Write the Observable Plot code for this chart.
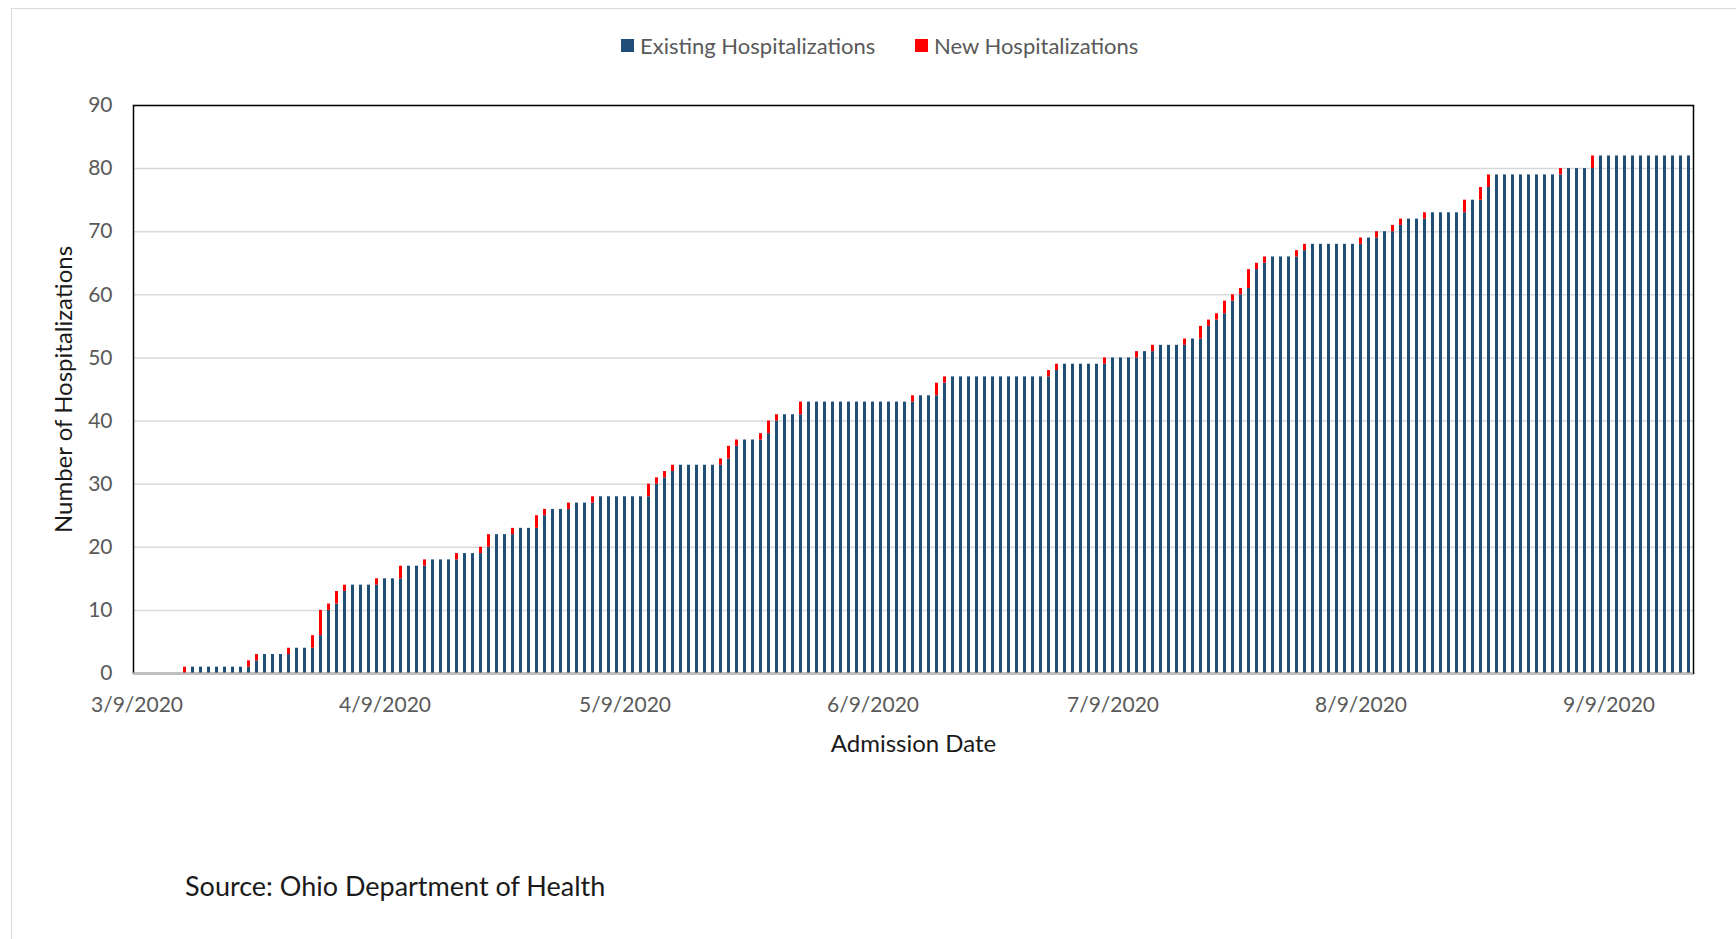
<!DOCTYPE html>
<html>
<head>
<meta charset="utf-8">
<script src="https://cdn.jsdelivr.net/npm/d3@7"></script>
<script src="https://cdn.jsdelivr.net/npm/@observablehq/plot@0.6"></script>
<style>
  html, body { margin: 0; padding: 0; background: #fff; width: 1736px; height: 939px; overflow: hidden; font-family: Lato, "Open Sans", sans-serif; }
  #border { position: absolute; left: 11px; top: 8px; width: 1780px; height: 980px; border: 1px solid #d9d9d9; box-sizing: border-box; }
  .leg { position: absolute; top: 32px; font-size: 22px; color: #595959; display: flex; align-items: center; white-space: nowrap; }
  .sw { width: 13px; height: 13px; margin-right: 6px; display: inline-block; }
  #chart { position: absolute; left: 0; top: 80px; }
  #caption { position: absolute; left: 185px; top: 869px; font-size: 27px; color: #1a1a1a; }
</style>
</head>
<body>
<div id="border"></div>
<div class="leg" style="left:621px"><span class="sw" style="background:#1F4E79"></span>Existing Hospitalizations</div>
<div class="leg" style="left:915px"><span class="sw" style="background:#FF0000"></span>New Hospitalizations</div>
<div id="chart"></div>
<div id="caption">Source: Ohio Department of Health</div>
<script>
// First admission-date category and daily values (one entry per day from 3/9/2020)
const startDate = "2020-03-09";
const existing = [
  0,0,0,0,0,0,0,1,1,1,
  1,1,1,1,1,2,3,3,3,3,
  4,4,4,6,10,11,13,14,14,14,
  14,15,15,15,17,17,17,18,18,18,
  18,19,19,19,20,22,22,22,23,23,
  23,25,26,26,26,27,27,27,28,28,
  28,28,28,28,28,30,31,32,33,33,
  33,33,33,33,34,36,37,37,37,38,
  40,41,41,41,43,43,43,43,43,43,
  43,43,43,43,43,43,43,43,44,44,
  44,46,47,47,47,47,47,47,47,47,
  47,47,47,47,47,48,49,49,49,49,
  49,49,50,50,50,50,51,51,52,52,
  52,52,53,53,55,56,57,59,60,61,
  64,65,66,66,66,66,67,68,68,68,
  68,68,68,68,69,69,70,70,71,72,
  72,72,73,73,73,73,73,75,75,77,
  79,79,79,79,79,79,79,79,79,80,
  80,80,80,82,82,82,82,82,82,82,
  82,82,82,82,82
];
const added = [
  0,0,0,0,0,0,1,0,0,0,
  0,0,0,0,1,1,0,0,0,1,
  0,0,2,4,1,2,1,0,0,0,
  1,0,0,2,0,0,1,0,0,0,
  1,0,0,1,2,0,0,1,0,0,
  2,1,0,0,1,0,0,1,0,0,
  0,0,0,0,2,1,1,1,0,0,
  0,0,0,1,2,1,0,0,1,2,
  1,0,0,2,0,0,0,0,0,0,
  0,0,0,0,0,0,0,1,0,0,
  2,1,0,0,0,0,0,0,0,0,
  0,0,0,0,1,1,0,0,0,0,
  0,1,0,0,0,1,0,1,0,0,
  0,1,0,2,1,1,2,1,1,3,
  1,1,0,0,0,1,1,0,0,0,
  0,0,0,1,0,1,0,1,1,0,
  0,1,0,0,0,0,2,0,2,2,
  0,0,0,0,0,0,0,0,1,0,
  0,0,2,0,0,0,0,0,0,0,
  0,0,0,0,0
];
const xTickDates = ["2020-03-09","2020-04-09","2020-05-09","2020-06-09","2020-07-09","2020-08-09","2020-09-09"];
const yTicks = [0,10,20,30,40,50,60,70,80,90];
const legendLabels = ["Existing Hospitalizations", "New Hospitalizations"];

const fmtKey = d3.utcFormat("%Y-%m-%d");
const start = new Date(startDate + "T00:00:00Z");
const rows = existing.map((e, i) => ({
  date: fmtKey(d3.utcDay.offset(start, i)),
  existing: e,
  added: added[i]
}));
const domain = rows.map(d => d.date);
const tickFmt = s => { const [y, m, d] = s.split("-").map(Number); return `${m}/${d}/${y}`; };

const chart = Plot.plot({
  width: 1736,
  height: 760,
  marginTop: 25,
  marginBottom: 167,
  marginLeft: 133,
  marginRight: 43,
  style: { fontFamily: "Lato, 'Open Sans', sans-serif", fontSize: "21px", color: "#595959", background: "transparent" },
  x: { type: "band", domain, paddingInner: 0.6, paddingOuter: 0.3, ticks: xTickDates, tickFormat: tickFmt, tickSize: 0, tickPadding: 24, label: null },
  y: { domain: [0, 90], ticks: yTicks, tickSize: 0, tickPadding: 21, label: null },
  marks: [
    Plot.ruleY(yTicks.slice(1), { stroke: "#d9d9d9", strokeWidth: 1.5 }),
    Plot.barY(rows.filter(d => d.existing > 0), { x: "date", y1: 0, y2: "existing", fill: "#1F4E79" }),
    Plot.barY(rows.filter(d => d.added > 0), { x: "date", y1: "existing", y2: d => d.existing + d.added, fill: "#FF0000" }),
    Plot.frame({ stroke: "#000", strokeWidth: 1.5 }),
    Plot.ruleY([0], { stroke: "#bfbfbf", strokeWidth: 2 }),
    Plot.text(["Number of Hospitalizations"], { text: d => d, frameAnchor: "left", textAnchor: "middle", rotate: -90, dx: -69, fontSize: 24, fill: "#1a1a1a" }),
    Plot.text(["Admission Date"], { text: d => d, frameAnchor: "bottom", textAnchor: "middle", dy: 78, fontSize: 24, fill: "#1a1a1a" })
  ]
});
document.getElementById("chart").appendChild(chart);
</script>
</body>
</html>
